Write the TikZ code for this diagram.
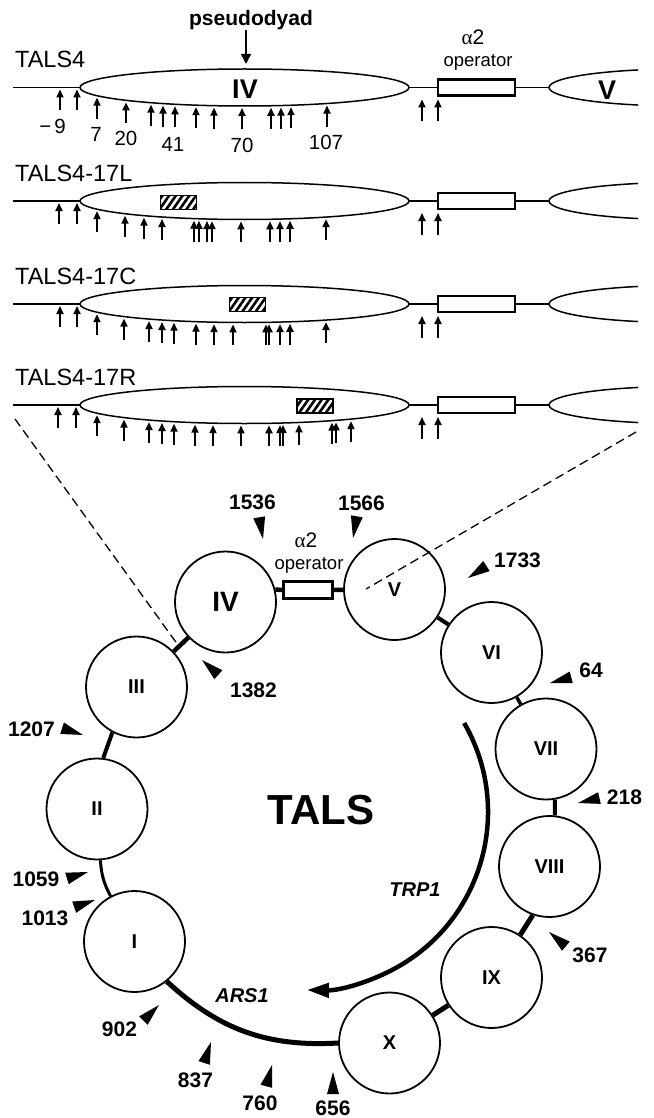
\documentclass[tikz,border=0pt]{standalone}
\usepackage{fontspec}
\setmainfont{Liberation Sans}
\newfontfamily\grk{Liberation Serif}
\usetikzlibrary{shapes.geometric,arrows.meta,patterns.meta}
\newcommand\fsz[1]{\fontsize{#1}{#1}\selectfont}
\tikzset{
 thinl/.style={line width=1.4pt},
 ell/.style={draw, ellipse, line width=1.5pt, minimum width=329pt, minimum height=37pt, inner sep=0pt, outer sep=0pt},
 vell/.style={draw, ellipse, line width=1.5pt, minimum width=262pt, minimum height=37pt, inner sep=0pt, outer sep=0pt},
 opbox/.style={draw, line width=2.8pt, minimum width=77pt, minimum height=16pt, inner sep=0pt, outer sep=0pt},
 hatchbox/.style={draw, line width=1.4pt, minimum width=36pt, minimum height=14pt, inner sep=0pt, pattern={Lines[angle=55,distance=5.5pt,line width=2.6pt]}},
 uparr/.style={line width=1.8pt, -{Triangle[length=8pt,width=7pt]}},
 rowlab/.style={font=\fsz{23.5}, anchor=west, inner sep=0pt},
 numlab/.style={font=\fsz{20.5}, inner sep=0pt},
 bnum/.style={font=\fsz{21}\bfseries, inner sep=0pt},
 circ/.style={draw, circle, line width=1.8pt, minimum size=101pt, inner sep=0pt, font=\fsz{20}\bfseries},
 link/.style={line width=4.5pt},
 dashl/.style={line width=1.3pt, dash pattern=on 9pt off 5pt},
 alab/.style={font=\fsz{21}, inner sep=0pt},
 olab/.style={font=\fsz{18.5}, inner sep=0pt},
}
\newcommand\mkrow[4]{%
 \node[ell] (e#2) at (244.5,-#1) {};
 \node[opbox] (b#2) at (476.5,-#1) {};
 \begin{scope}
  \clip (530,{-#1+30}) rectangle (638,{-#1-30});
  \node[vell] (v#2) at (680,-#1) {};
 \end{scope}
 \coordinate (s#2) at (13,-#1);
 \draw[thinl] (s#2) -- (e#2.west);
 \draw[thinl] (e#2.east) -- (b#2.west);
 \draw[thinl] (b#2.east) -- (v#2.west);
 \node[rowlab] (t#2) at (15,{-#1+28}) {#3};
 \foreach \xx in {#4} {
   \pgfmathsetmacro\tipy{#1 + 18.5*sqrt(max(0,1-((\xx-244.5)/164.5)^2)) + 2}
   \draw[uparr] (\xx,-\tipy-21) -- (\xx,-\tipy);
 }
 \foreach \xx in {422,438} { \draw[uparr] (\xx,{-#1-34}) -- (\xx,{-#1-12}); }
}
\newcommand\ptr[3]{\fill[shift={(#1,-#2)},rotate=#3] (0,0) -- (-22,6) -- (-22,-6) -- cycle;}
\begin{document}
\begin{tikzpicture}[x=1pt,y=1pt]
\useasboundingbox (0,0) rectangle (653,-1118);
% ---------- top rows ----------
\mkrow{87.5}{1}{TALS4}{60,77,97,126,151,163,175,196,214,242,271,281,291,327}
\mkrow{201}{2}{TALS4-17L}{59,77,97,125,144,162,194,199,207,212,241,270,280,290,326}
\mkrow{304}{3}{TALS4-17C}{60,77,97,124,149,162,174,196,214,233,266,269,280,290,326}
\mkrow{405}{4}{TALS4-17R}{58,76,97,124,149,162,174,195,213,241,269,280,283,299,332,336,351}
\node[hatchbox] (h2) at (178.5,-202.5) {};
\node[hatchbox] (h3) at (247.5,-304.5) {};
\node[hatchbox] (h4) at (315,-406) {};
\node[font=\fsz{27}\bfseries, inner sep=0pt] (lIV) at (245,-89) {IV};
\node[font=\fsz{27}\bfseries, inner sep=0pt] (lV) at (607,-90) {V};
\node[font=\fsz{21}\bfseries, inner sep=0pt] (pd) at (251,-20) {pseudodyad};
\coordinate (pdtip) at (246,-64);
\draw[line width=1.6pt, -{Triangle[length=10pt,width=10pt]}] (pd.south -| pdtip) -- (pdtip);
\node[alab] (a2t) at (473,-37) {{\grk α}2};
\node[olab] (opt) at (478,-62) {operator};
\node[numlab] (m9) at (52.5,-126.5) {−\kern3pt9};
\node[numlab] (m7) at (96,-134.5) {7};
\node[numlab] (m20) at (126,-138) {20};
\node[numlab] (m41) at (173,-144.5) {41};
\node[numlab] (m70) at (242,-145.5) {70};
\node[numlab] (m107) at (326,-142.5) {107};
% ---------- dashed zoom lines ----------
\coordinate (dl1) at (15,-419); \coordinate (dl2) at (178,-645);
\coordinate (dr1) at (636,-432); \coordinate (dr2) at (366,-589);
\draw[dashl] (dl1) -- (dl2);
\draw[dashl] (dr1) -- (dr2);
% ---------- circular map ----------
\node[circ] (c1) at (134.5,-941.5) {I};
\node[circ] (c2) at (97,-809) {II};
\node[circ] (c3) at (136.5,-687) {III};
\node[circ, font=\fsz{28}\bfseries] (c4) at (225.5,-602) {IV};
\node[circ] (c5) at (394.5,-589.5) {V};
\node[circ] (c6) at (491.5,-652.5) {VI};
\node[circ] (c7) at (546,-749) {VII};
\node[circ] (c8) at (549.5,-866.5) {VIII};
\node[circ] (c9) at (491.5,-977.5) {IX};
\node[circ] (c10) at (389.5,-1043) {X};
\node[opbox, line width=2.2pt, minimum width=49pt, minimum height=17pt] (ob) at (308,-590) {};
\node[alab] (a2c) at (306,-540) {{\grk α}2};
\node[olab] (opc) at (309,-565) {operator};
\draw[link] (c3) -- (c4);
\draw[link] (c4.14) -- (ob.west);
\draw[link] (ob.east) -- (c5);
\draw[link, line width=4pt] (c5) -- (c6);
\draw[link, line width=3.5pt] (c6) -- (c7);
\draw[link, line width=4pt] (c7.-80) -- (c8.84);
\draw[link, line width=5pt] (c8.-109) -- (c9.56);
\draw[link, line width=5pt] (c9) -- (c10);
\draw[line width=5pt] (c10.west) to[bend left=23] (c1.-51);
\draw[line width=3pt] (c2) to[bend right=12] (c1);
\draw[link, line width=4pt] (c3.-118) -- (c2.83);
\draw[line width=4.5pt, -{Triangle[length=22pt,width=14pt]}] ([shift={(30:178)}]310,-812) arc[start angle=30, end angle=-91, radius=178];
\node[font=\fsz{42}\bfseries, inner sep=0pt] (tals) at (321,-810) {TALS};
\node[font=\fsz{20}\bfseries\itshape, inner sep=0pt] (trp) at (415,-890) {TRP1};
\node[font=\fsz{20}\bfseries\itshape, inner sep=0pt] (ars) at (242,-996) {ARS1};
% position labels
\node[bnum] (n1536) at (252.5,-502.5) {1536};
\node[bnum] (n1566) at (361.5,-503) {1566};
\node[bnum] (n1733) at (517.5,-560.5) {1733};
\node[bnum] (n64) at (591,-670) {64};
\node[bnum] (n218) at (624.5,-797.5) {218};
\node[bnum] (n367) at (590,-955.5) {367};
\node[bnum] (n656) at (333,-1108) {656};
\node[bnum] (n760) at (260,-1103) {760};
\node[bnum] (n837) at (195.5,-1080.5) {837};
\node[bnum] (n902) at (119.5,-1029.5) {902};
\node[bnum] (n1013) at (45,-918.5) {1013};
\node[bnum] (n1059) at (36,-879) {1059};
\node[bnum] (n1207) at (31.5,-729.5) {1207};
\node[bnum] (n1382) at (253.5,-690) {1382};
\ptr{263}{539}{-80}
\ptr{353}{538}{-100}
\ptr{468}{578}{-147}
\ptr{550}{683}{-165}
\ptr{578}{803}{-167}
\ptr{549}{932}{140}
\ptr{333}{1072}{90}
\ptr{272}{1065}{75}
\ptr{211}{1042}{72}
\ptr{159}{1005}{45}
\ptr{95}{900}{19}
\ptr{88}{872}{17}
\ptr{83}{735}{-18}
\ptr{202}{660}{138}
\end{tikzpicture}
\end{document}
